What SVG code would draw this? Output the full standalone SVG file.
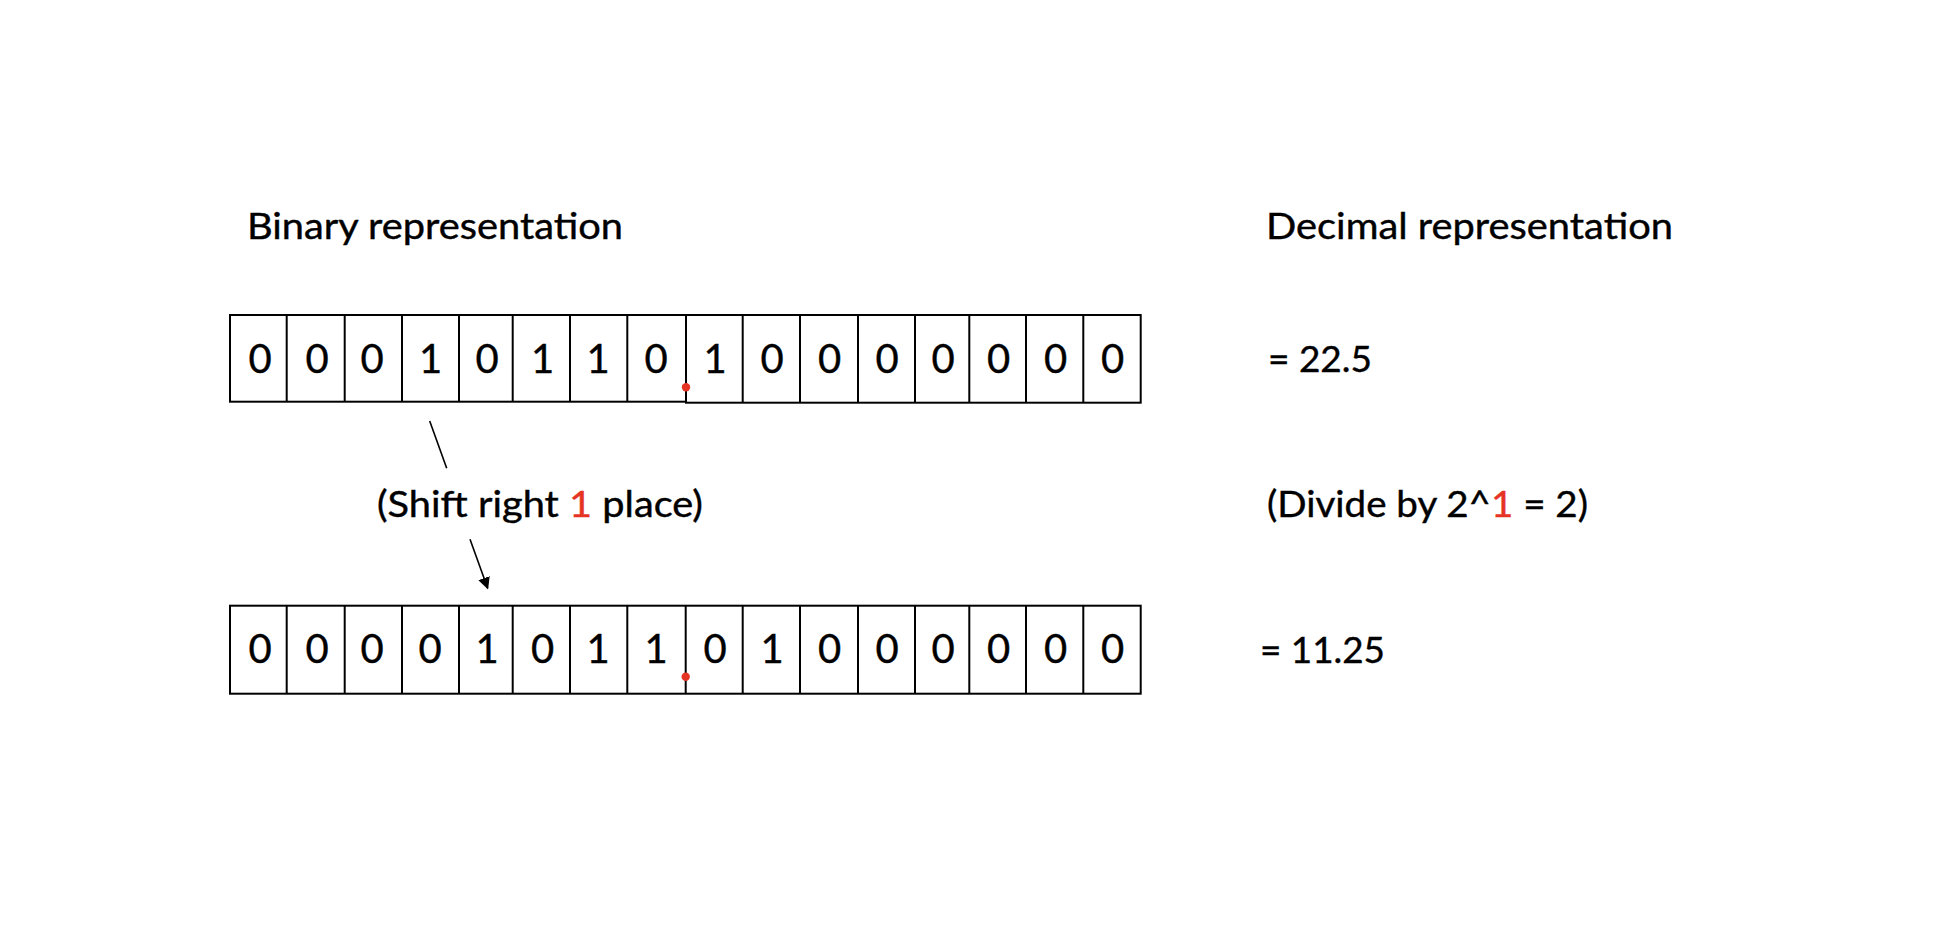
<svg xmlns="http://www.w3.org/2000/svg" width="1960" height="934" viewBox="0 0 1960 934">
<defs>
<style>
.bg{fill:#ffffff}
.cell{fill:#ffffff;stroke:#000000;stroke-width:2}
.div{stroke:#000000;stroke-width:2}
.dg{font-family:Lato,"Open Sans",sans-serif;font-size:40px;fill:#000000;stroke:#000000;stroke-width:0.4;text-anchor:middle}
.lb{font-family:Lato,"Open Sans",sans-serif;font-size:36px;fill:#000000;stroke:#000000;stroke-width:0.4}
.red{fill:#e53424;stroke:#e53424}
.dot{fill:#e53424}
.conn{stroke:#000000;stroke-width:1.6;fill:none}
</style>
<marker id="ah" viewBox="0 0 10 10" refX="9" refY="5" markerWidth="7.5" markerHeight="7.5" markerUnits="strokeWidth" orient="auto">
<path d="M0,0 L10,5 L0,10 z" fill="#000000"/>
</marker>
</defs>
<rect class="bg" x="0" y="0" width="1960" height="934"/>

<g id="label-binary">
<text class="lb" x="247" y="239" textLength="376" lengthAdjust="spacingAndGlyphs">Binary representation</text>
</g>
<g id="label-decimal">
<text class="lb" x="1266" y="239" textLength="407" lengthAdjust="spacingAndGlyphs">Decimal representation</text>
</g>

<g id="row-original">
<rect class="cell" x="230" y="315" width="456" height="86.7"/>
<rect class="cell" x="686" y="315" width="454.7" height="87.7"/>
<line class="div" x1="286.7" y1="315" x2="286.7" y2="401.7"/>
<line class="div" x1="344.7" y1="315" x2="344.7" y2="401.7"/>
<line class="div" x1="402" y1="315" x2="402" y2="401.7"/>
<line class="div" x1="459" y1="315" x2="459" y2="401.7"/>
<line class="div" x1="512.7" y1="315" x2="512.7" y2="401.7"/>
<line class="div" x1="570" y1="315" x2="570" y2="401.7"/>
<line class="div" x1="627.3" y1="315" x2="627.3" y2="401.7"/>
<line class="div" x1="742.7" y1="315" x2="742.7" y2="402.7"/>
<line class="div" x1="800" y1="315" x2="800" y2="402.7"/>
<line class="div" x1="858" y1="315" x2="858" y2="402.7"/>
<line class="div" x1="915" y1="315" x2="915" y2="402.7"/>
<line class="div" x1="969.3" y1="315" x2="969.3" y2="402.7"/>
<line class="div" x1="1026" y1="315" x2="1026" y2="402.7"/>
<line class="div" x1="1083.3" y1="315" x2="1083.3" y2="402.7"/>
<text class="dg" x="260" y="373">0</text>
<text class="dg" x="317" y="373">0</text>
<text class="dg" x="372" y="373">0</text>
<text class="dg" x="430.7" y="373">1</text>
<text class="dg" x="487" y="373">0</text>
<text class="dg" x="542.5" y="373">1</text>
<text class="dg" x="598" y="373">1</text>
<text class="dg" x="656" y="373">0</text>
<text class="dg" x="715" y="373">1</text>
<text class="dg" x="772" y="373">0</text>
<text class="dg" x="829.5" y="373">0</text>
<text class="dg" x="887" y="373">0</text>
<text class="dg" x="943" y="373">0</text>
<text class="dg" x="998.5" y="373">0</text>
<text class="dg" x="1055.5" y="373">0</text>
<text class="dg" x="1112.5" y="373">0</text>
<circle class="dot" cx="686" cy="387.3" r="4.2"/>
</g>

<g id="label-value-original">
<text class="lb" x="1268" y="371.7" textLength="104" lengthAdjust="spacingAndGlyphs">= 22.5</text>
</g>

<g id="label-shift">
<text class="lb" x="377" y="517.3" textLength="326" lengthAdjust="spacingAndGlyphs">(Shift right <tspan class="red">1</tspan> place)</text>
</g>
<g id="label-divide">
<text class="lb" x="1267" y="517.3" textLength="321" lengthAdjust="spacingAndGlyphs">(Divide by 2^<tspan class="red">1</tspan> = 2)</text>
</g>

<g id="row-shifted">
<rect class="cell" x="230" y="605.7" width="910.7" height="88"/>
<line class="div" x1="286.7" y1="605.7" x2="286.7" y2="693.7"/>
<line class="div" x1="344.7" y1="605.7" x2="344.7" y2="693.7"/>
<line class="div" x1="402" y1="605.7" x2="402" y2="693.7"/>
<line class="div" x1="459" y1="605.7" x2="459" y2="693.7"/>
<line class="div" x1="512.7" y1="605.7" x2="512.7" y2="693.7"/>
<line class="div" x1="570" y1="605.7" x2="570" y2="693.7"/>
<line class="div" x1="627.3" y1="605.7" x2="627.3" y2="693.7"/>
<line class="div" x1="685.7" y1="605.7" x2="685.7" y2="693.7"/>
<line class="div" x1="742.7" y1="605.7" x2="742.7" y2="693.7"/>
<line class="div" x1="800" y1="605.7" x2="800" y2="693.7"/>
<line class="div" x1="858" y1="605.7" x2="858" y2="693.7"/>
<line class="div" x1="915" y1="605.7" x2="915" y2="693.7"/>
<line class="div" x1="969.3" y1="605.7" x2="969.3" y2="693.7"/>
<line class="div" x1="1026" y1="605.7" x2="1026" y2="693.7"/>
<line class="div" x1="1083.3" y1="605.7" x2="1083.3" y2="693.7"/>
<text class="dg" x="260" y="663.3">0</text>
<text class="dg" x="317" y="663.3">0</text>
<text class="dg" x="372" y="663.3">0</text>
<text class="dg" x="430" y="663.3">0</text>
<text class="dg" x="487" y="663.3">1</text>
<text class="dg" x="542.5" y="663.3">0</text>
<text class="dg" x="598" y="663.3">1</text>
<text class="dg" x="656" y="663.3">1</text>
<text class="dg" x="715" y="663.3">0</text>
<text class="dg" x="772" y="663.3">1</text>
<text class="dg" x="829.5" y="663.3">0</text>
<text class="dg" x="887" y="663.3">0</text>
<text class="dg" x="943" y="663.3">0</text>
<text class="dg" x="998.5" y="663.3">0</text>
<text class="dg" x="1055.5" y="663.3">0</text>
<text class="dg" x="1112.5" y="663.3">0</text>
<circle class="dot" cx="685.7" cy="676.7" r="4.2"/>
</g>

<g id="label-value-shifted">
<text class="lb" x="1260" y="663.3" textLength="125" lengthAdjust="spacingAndGlyphs">= 11.25</text>
</g>

<g id="connectors">
<line class="conn" x1="429.7" y1="421" x2="446.7" y2="468.3"/>
<line class="conn" x1="470" y1="539.3" x2="487.7" y2="588.3" marker-end="url(#ah)"/>
</g>
</svg>
